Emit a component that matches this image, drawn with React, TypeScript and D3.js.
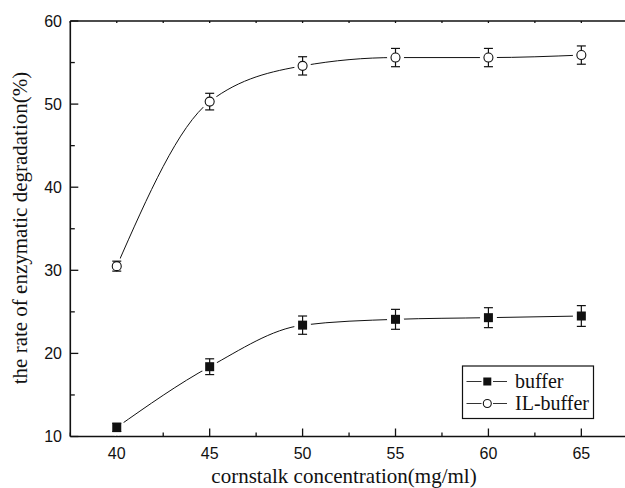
import React from 'react';
import * as d3 from 'd3';

// values
const concentrations = [40, 45, 50, 55, 60, 65];
const bufferRate = [11.1, 18.4, 23.4, 24.1, 24.3, 24.5];
const bufferErr = [0.5, 0.95, 1.1, 1.2, 1.2, 1.25];
const ilRate = [30.5, 50.3, 54.6, 55.6, 55.6, 55.9];
const ilErr = [0.6, 1.0, 1.1, 1.1, 1.1, 1.1];
const xMajor = [40, 45, 50, 55, 60, 65];
const xMinor = [37.5, 42.5, 47.5, 52.5, 57.5, 62.5, 67.5];
const yMajor = [10, 20, 30, 40, 50, 60];
const yMinor = [15, 25, 35, 45, 55];

const W = 625;
const H = 488;
const sans = '"Liberation Sans", Arial, sans-serif';
const serif = '"Liberation Serif", "Times New Roman", serif';

const x = d3.scaleLinear().domain([37.5, 67.5]).range([70.3, 627.8]);
const y = d3.scaleLinear().domain([10, 60]).range([436.5, 21]);

const lineGen = d3
  .line<[number, number]>()
  .x(d => x(d[0]))
  .y(d => y(d[1]))
  .curve(d3.curveMonotoneX);

type Series = { name: string; vals: number[]; errs: number[]; filled: boolean };
const series: Series[] = [
  { name: 'buffer', vals: bufferRate, errs: bufferErr, filled: true },
  { name: 'IL-buffer', vals: ilRate, errs: ilErr, filled: false },
];

const Marker = ({ cx, cy, filled, s }: { cx: number; cy: number; filled: boolean; s: number }) =>
  filled ? (
    <rect x={cx - s / 2} y={cy - s / 2} width={s} height={s} fill="#111" />
  ) : (
    <circle cx={cx} cy={cy} r={s / 2} fill="#fff" stroke="#111" strokeWidth={1.1} />
  );

export default function App() {
  return (
    <svg
      width={W}
      height={H}
      style={{ position: 'absolute', left: 0, top: 0, background: '#fff' }}
    >
      {/* axes frame: left, bottom, top (right one falls off the canvas) */}
      <g stroke="#111" strokeWidth={1.6} fill="none">
        <line x1={x(37.5)} x2={x(37.5)} y1={y(60)} y2={y(10)} />
        <line x1={x(37.5)} x2={W} y1={y(10)} y2={y(10)} />
        <line x1={x(37.5)} x2={W} y1={y(60)} y2={y(60)} />
      </g>

      {/* ticks, pointing inward */}
      <g stroke="#111" strokeWidth={1.3}>
        {xMajor.map(v => (
          <line key={'xM' + v} x1={x(v)} x2={x(v)} y1={y(10)} y2={y(10) - 8} />
        ))}
        {xMinor.map(v => (
          <line key={'xm' + v} x1={x(v)} x2={x(v)} y1={y(10)} y2={y(10) - 4} />
        ))}
        {xMajor.concat(xMinor).map(v => (
          <line key={'xt' + v} x1={x(v)} x2={x(v)} y1={y(60)} y2={y(60) + 2} />
        ))}
        {yMajor.map(v => (
          <line key={'yM' + v} x1={x(37.5)} x2={x(37.5) + 8} y1={y(v)} y2={y(v)} />
        ))}
        {yMinor.map(v => (
          <line key={'ym' + v} x1={x(37.5)} x2={x(37.5) + 4.5} y1={y(v)} y2={y(v)} />
        ))}
      </g>

      {/* tick labels */}
      <g fontFamily={sans} fontSize={16} fill="#111">
        {xMajor.map(v => (
          <text key={'xl' + v} x={x(v)} y={459} textAnchor="middle">
            {v}
          </text>
        ))}
        {yMajor.map(v => (
          <text key={'yl' + v} x={62} y={y(v) + 5.5} textAnchor="end">
            {v}
          </text>
        ))}
      </g>

      {/* axis titles */}
      <text x={344} y={482.5} textAnchor="middle" fontFamily={serif} fontSize={21} fill="#111">
        cornstalk concentration(mg/ml)
      </text>
      <text
        transform={`translate(27,${228}) rotate(-90)`}
        textAnchor="middle"
        fontFamily={serif}
        fontSize={21}
        fill="#111"
      >
        the rate of enzymatic degradation(%)
      </text>

      {/* curves */}
      {series.map(s => (
        <path
          key={'c' + s.name}
          d={lineGen(concentrations.map((c, i) => [c, s.vals[i]] as [number, number])) || ''}
          fill="none"
          stroke="#111"
          strokeWidth={1}
        />
      ))}

      {/* gaps around symbols */}
      {series.map(s =>
        concentrations.map((c, i) => (
          <circle key={'h' + s.name + c} cx={x(c)} cy={y(s.vals[i])} r={8.5} fill="#fff" />
        ))
      )}

      {/* error bars */}
      <g stroke="#111" strokeWidth={1.2}>
        {series.map(s =>
          concentrations.map((c, i) => {
            const top = y(s.vals[i] + s.errs[i]);
            const bot = y(s.vals[i] - s.errs[i]);
            return (
              <g key={'e' + s.name + c}>
                <line x1={x(c)} x2={x(c)} y1={top} y2={bot} />
                <line x1={x(c) - 4.5} x2={x(c) + 4.5} y1={top} y2={top} />
                <line x1={x(c) - 4.5} x2={x(c) + 4.5} y1={bot} y2={bot} />
              </g>
            );
          })
        )}
      </g>

      {/* symbols */}
      {series.map(s =>
        concentrations.map((c, i) => (
          <Marker key={'m' + s.name + c} cx={x(c)} cy={y(s.vals[i])} filled={s.filled} s={9} />
        ))
      )}

      {/* legend */}
      <rect x={462.5} y={366} width={131} height={52.5} fill="#fff" stroke="#111" strokeWidth={1.2} />
      {series.map((s, i) => {
        const ly = 381.5 + i * 22;
        return (
          <g key={'lg' + s.name}>
            <line x1={466.5} x2={481.5} y1={ly} y2={ly} stroke="#333" strokeWidth={1} />
            <line x1={493} x2={507} y1={ly} y2={ly} stroke="#333" strokeWidth={1} />
            <Marker cx={487.3} cy={ly} filled={s.filled} s={8} />
            <text x={515} y={ly + 6.5} fontFamily={serif} fontSize={20} fill="#111">
              {s.name}
            </text>
          </g>
        );
      })}
    </svg>
  );
}
